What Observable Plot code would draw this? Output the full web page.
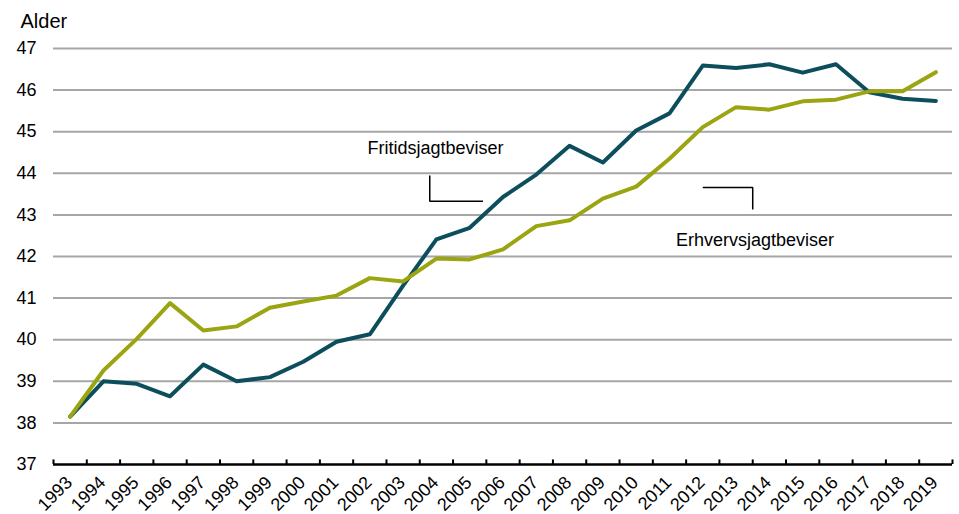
<!DOCTYPE html>
<html><head><meta charset="utf-8">
<script src="https://cdn.jsdelivr.net/npm/d3@7"></script>
<script src="https://cdn.jsdelivr.net/npm/@observablehq/plot@0.6"></script>
<style>body{margin:0;background:#fff;} svg{display:block}</style>
</head><body><div id="chart"></div>
<script>
const years = [1993,1994,1995,1996,1997,1998,1999,2000,2001,2002,2003,2004,2005,2006,2007,2008,2009,2010,2011,2012,2013,2014,2015,2016,2017,2018,2019];
const fritids = [38.15,39.0,38.94,38.64,39.4,39.0,39.1,39.47,39.95,40.13,41.3,42.41,42.69,43.43,43.97,44.66,44.26,45.03,45.44,46.59,46.53,46.62,46.42,46.62,45.95,45.79,45.74];
const erhvervs = [38.15,39.26,40.02,40.88,40.22,40.32,40.77,40.92,41.06,41.48,41.4,41.95,41.93,42.17,42.73,42.87,43.39,43.68,44.35,45.11,45.59,45.53,45.73,45.77,45.97,45.97,46.43];
const yTicks = [37,38,39,40,41,42,43,44,45,46,47];
const seriesNames = ["Fritidsjagtbeviser","Erhvervsjagtbeviser"];
const yLabel = "Alder";
const labelYears = [2003.97, 2013.57];
const labelValues = [44.6, 42.38];
const fritidsLeaderYears = [2003.8, 2003.8, 2005.4];
const fritidsLeaderValues = [43.95, 43.33, 43.33];
const erhvervsLeaderYears = [2012.0, 2013.5, 2013.5];
const erhvervsLeaderValues = [43.66, 43.66, 43.13];

const rowsF = years.map((y,i)=>({year:y, value:fritids[i]}));
const rowsE = years.map((y,i)=>({year:y, value:erhvervs[i]}));
const leaderF = fritidsLeaderYears.map((y,i)=>({year:y, value:fritidsLeaderValues[i]}));
const leaderE = erhvervsLeaderYears.map((y,i)=>({year:y, value:erhvervsLeaderValues[i]}));
const labels = seriesNames.map((s,i)=>({label:s, year:labelYears[i], value:labelValues[i]}));
const boundaries = years.map(y=>y-0.5).concat([years[years.length-1]+0.5]);

const chart = Plot.plot({
  width:959, height:514,
  marginLeft:53, marginRight:7, marginTop:48, marginBottom:50,
  style:{fontFamily:"'Liberation Sans', Arial, sans-serif", fontSize:"18px", color:"#000", background:"#fff"},
  x:{domain:[years[0]-0.5, years[years.length-1]+0.5]},
  y:{domain:[yTicks[0], yTicks[yTicks.length-1]]},
  marks:[
    Plot.ruleY(yTicks.slice(1), {stroke:"#a6a6a6", strokeWidth:2}),
    Plot.axisY({ticks:yTicks, tickSize:0, tickPadding:17, label:null, tickFormat:d=>String(d), fontSize:18}),
    Plot.axisX({ticks:years, tickFormat:d=>String(d), tickRotate:-45, tickSize:0, tickPadding:14, dy:1, dx:-1, label:null, fontSize:18}),
    Plot.ruleY([yTicks[0]], {stroke:"#000", strokeWidth:2.5}),
    Plot.ruleX(boundaries, {y1:yTicks[0], y2:yTicks[0]+0.11, stroke:"#000", strokeWidth:2}),
    Plot.line(rowsF, {x:"year", y:"value", stroke:"#0d4e5c", strokeWidth:4}),
    Plot.line(rowsE, {x:"year", y:"value", stroke:"#9aa511", strokeWidth:4}),
    Plot.line(leaderF, {x:"year", y:"value", stroke:"#000", strokeWidth:1.5, strokeLinejoin:"miter", strokeLinecap:"butt"}),
    Plot.line(leaderE, {x:"year", y:"value", stroke:"#000", strokeWidth:1.5, strokeLinejoin:"miter", strokeLinecap:"butt"}),
    Plot.text(labels, {x:"year", y:"value", text:"label", fontSize:18, fill:"#000"}),
    Plot.text([yLabel], {frameAnchor:"top-left", dx:-33, dy:-27, lineAnchor:"middle", textAnchor:"start", fontSize:20, fill:"#000"})
  ]
});
document.getElementById("chart").appendChild(chart);
</script>
</body></html>
